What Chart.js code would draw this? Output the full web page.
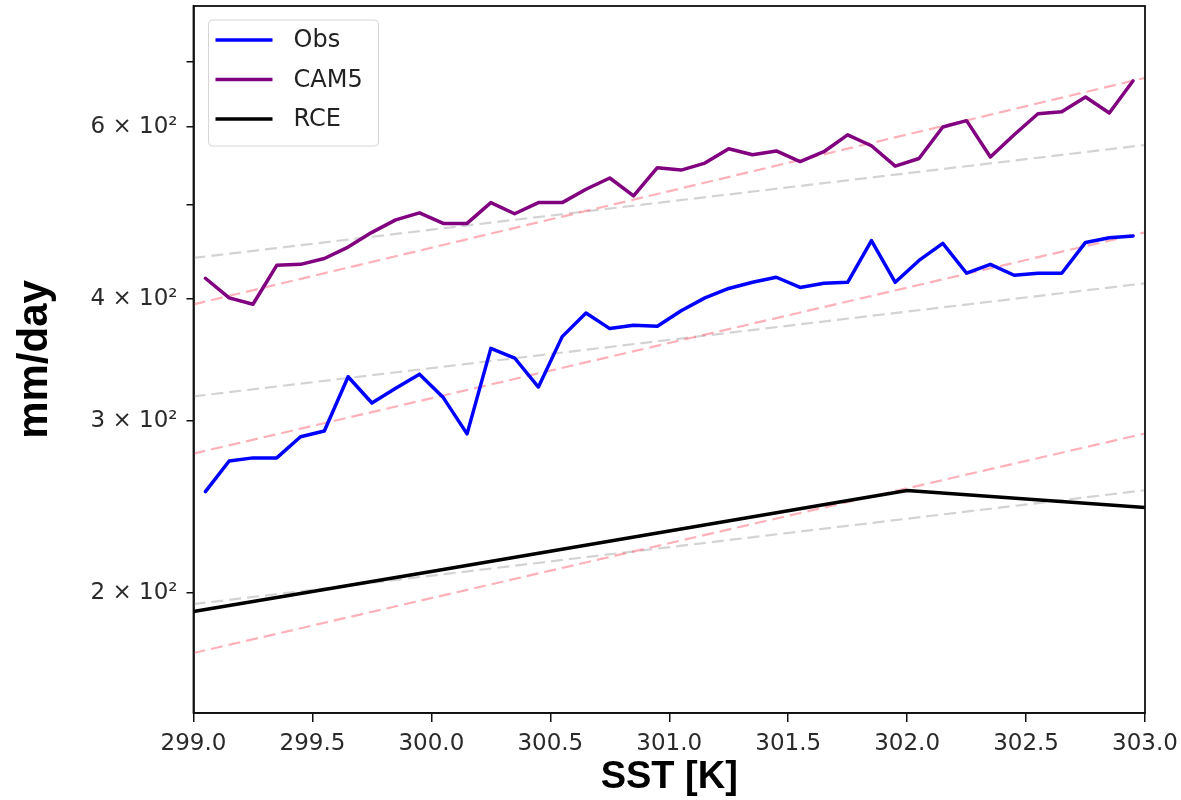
<!DOCTYPE html>
<html>
<head>
<meta charset="utf-8">
<script src="https://cdn.jsdelivr.net/npm/chart.js@4/dist/chart.umd.min.js"></script>
<style>
  html, body { margin: 0; padding: 0; background: #ffffff; }
  #wrap { width: 1181px; height: 800px; position: relative; }
</style>
</head>
<body>
<div id="wrap"><canvas id="c" width="1181" height="800"></canvas></div>
<script>
// ---- data ----
const sst = [299.05, 299.15, 299.25, 299.35, 299.45, 299.55, 299.65, 299.75, 299.85, 299.95,
             300.05, 300.15, 300.25, 300.35, 300.45, 300.55, 300.65, 300.75, 300.85, 300.95,
             301.05, 301.15, 301.25, 301.35, 301.45, 301.55, 301.65, 301.75, 301.85, 301.95,
             302.05, 302.15, 302.25, 302.35, 302.45, 302.55, 302.65, 302.75, 302.85, 302.95];
const obsValues = [254, 273, 275, 275, 289, 293, 333, 313, 324, 335,
                   317, 291, 356, 348, 325, 366, 387, 373, 376, 375,
                   389, 401, 410, 416, 421, 411, 415, 416, 459, 416,
                   438, 456, 425, 434, 423, 425, 425, 457, 462, 464];
const cam5Values = [420, 401, 395, 433, 434, 440, 452, 468, 482, 490,
                    478, 478, 502, 489, 502, 502, 518, 532, 510, 545,
                    542, 551, 570, 562, 567, 553, 566, 589, 574, 547,
                    557, 600, 609, 559, 589, 619, 622, 644, 620, 669];
const rceSST = [299, 300, 301, 302, 303];
const rceValues = [191.4, 210.4, 231.5, 254.6, 244.6];

// reference scaling lines (end points)
const fitSST = [299, 303];
const obsGrey = [317.9, 415.0];
const obsRed  = [277.8, 468.0];
const camGrey = [440.6, 575.0];
const camRed  = [394.9, 673.6];
const rceGrey = [194.8, 254.8];
const rceRed  = [173.6, 291.3];

const xTickValues = [299.0, 299.5, 300.0, 300.5, 301.0, 301.5, 302.0, 302.5, 303.0];
const yTickValues = [200, 300, 400, 500, 600, 700];
const yTickLabels = ["2 × 10²", "3 × 10²", "4 × 10²", "", "6 × 10²", ""];
const legendLabels = ["Obs", "CAM5", "RCE"];

const xRange = [299, 303];
const yRange = [150.7, 798];

// ---- helpers ----
const pts = (xs, ys) => xs.map((x, i) => ({ x: x, y: ys[i] }));

const RED = 'rgba(255, 70, 90, 0.42)';
const GREY = 'rgba(150, 150, 150, 0.42)';
const DASH = [12, 6];

function mainLine(label, xs, ys, color) {
  return { label, data: pts(xs, ys), borderColor: color, backgroundColor: color,
           borderWidth: 3.5, pointRadius: 0, tension: 0, fill: false, order: 0,
           borderJoinStyle: 'round', borderCapStyle: 'round' };
}
function fitLine(label, ys, color) {
  return { label, data: pts(fitSST, ys), borderColor: color, backgroundColor: color,
           borderWidth: 2.2, borderDash: DASH, pointRadius: 0, tension: 0, fill: false, order: 1 };
}

const framePlugin = {
  id: 'frame',
  afterDatasetsDraw(chart) {
    const a = chart.chartArea, ctx = chart.ctx;
    ctx.save();
    ctx.strokeStyle = '#111';
    ctx.lineWidth = 1.8;
    ctx.strokeRect(a.left, a.top, a.right - a.left, a.bottom - a.top);
    ctx.restore();
  }
};

const legendPlugin = {
  id: 'boxLegend',
  afterDraw(chart) {
    const ctx = chart.ctx, a = chart.chartArea;
    const items = chart.data.datasets.filter(d => legendLabels.includes(d.label));
    const x0 = a.left + 15, y0 = a.top + 14, w = 170, h = 126;
    ctx.save();
    ctx.fillStyle = 'rgba(255,255,255,0.85)';
    ctx.strokeStyle = '#d6d6d6';
    ctx.lineWidth = 1;
    ctx.beginPath();
    ctx.roundRect(x0, y0, w, h, 4);
    ctx.fill();
    ctx.stroke();
    ctx.font = '24px "DejaVu Sans"';
    ctx.textBaseline = 'middle';
    items.forEach((d, i) => {
      const y = y0 + 20 + i * 39.5;
      ctx.strokeStyle = d.borderColor;
      ctx.lineWidth = 3.5;
      ctx.beginPath();
      ctx.moveTo(x0 + 7, y);
      ctx.lineTo(x0 + 64, y);
      ctx.stroke();
      ctx.fillStyle = '#222';
      ctx.fillText(d.label, x0 + 85, y + 1);
    });
    ctx.restore();
  }
};

new Chart(document.getElementById('c'), {
  type: 'line',
  data: {
    datasets: [
      mainLine('Obs', sst, obsValues, '#0000ff'),
      mainLine('CAM5', sst, cam5Values, '#800080'),
      mainLine('RCE', rceSST, rceValues, '#000000'),
      fitLine('Obs 2CC', obsRed, RED),
      fitLine('Obs CC', obsGrey, GREY),
      fitLine('CAM5 2CC', camRed, RED),
      fitLine('CAM5 CC', camGrey, GREY),
      fitLine('RCE 2CC', rceRed, RED),
      fitLine('RCE CC', rceGrey, GREY)
    ]
  },
  options: {
    responsive: false,
    devicePixelRatio: 1,
    animation: false,
    layout: { padding: { left: 0, top: 6, right: 36, bottom: 0 } },
    plugins: { legend: { display: false }, tooltip: { enabled: false } },
    scales: {
      x: {
        type: 'linear',
        min: xRange[0], max: xRange[1],
        afterBuildTicks: (s) => { s.ticks = xTickValues.map(v => ({ value: v })); },
        afterFit: (s) => { s.height = 87; s.paddingLeft = 0; s.paddingRight = 0; },
        grid: { display: true, drawOnChartArea: false, drawTicks: true, tickLength: 9,
                color: '#111', lineWidth: 1.5 },
        border: { display: true, color: '#111', width: 1.8 },
        ticks: { color: '#2a2a2a', font: { family: 'DejaVu Sans', size: 23 }, padding: 8,
                 maxRotation: 0, autoSkip: false,
                 callback: (v) => Number(v).toFixed(1) },
        title: { display: true, text: 'SST [K]', color: '#000',
                 font: { family: 'Liberation Sans', size: 38, weight: 'bold' },
                 padding: { top: 0, bottom: 0 } }
      },
      y: {
        type: 'logarithmic',
        min: yRange[0], max: yRange[1],
        afterBuildTicks: (s) => { s.ticks = yTickValues.map(v => ({ value: v })); },
        afterFit: (s) => { s.width = 193.5; s.paddingTop = 0; s.paddingBottom = 0; },
        grid: { display: true, drawOnChartArea: false, drawTicks: true, tickLength: 7,
                color: '#111', lineWidth: 1.5 },
        border: { display: true, color: '#111', width: 1.8 },
        ticks: { color: '#2a2a2a', font: { family: 'DejaVu Sans', size: 23 }, padding: 9,
                 autoSkip: false,
                 callback: (v) => { const i = yTickValues.indexOf(Number(v)); return i >= 0 ? yTickLabels[i] : ''; } },
        title: { display: true, text: 'mm/day', color: '#000',
                 font: { family: 'Liberation Sans', size: 42, weight: 'bold' },
                 padding: { top: 10, bottom: 0 } }
      }
    }
  },
  plugins: [framePlugin, legendPlugin]
});
</script>
</body>
</html>
